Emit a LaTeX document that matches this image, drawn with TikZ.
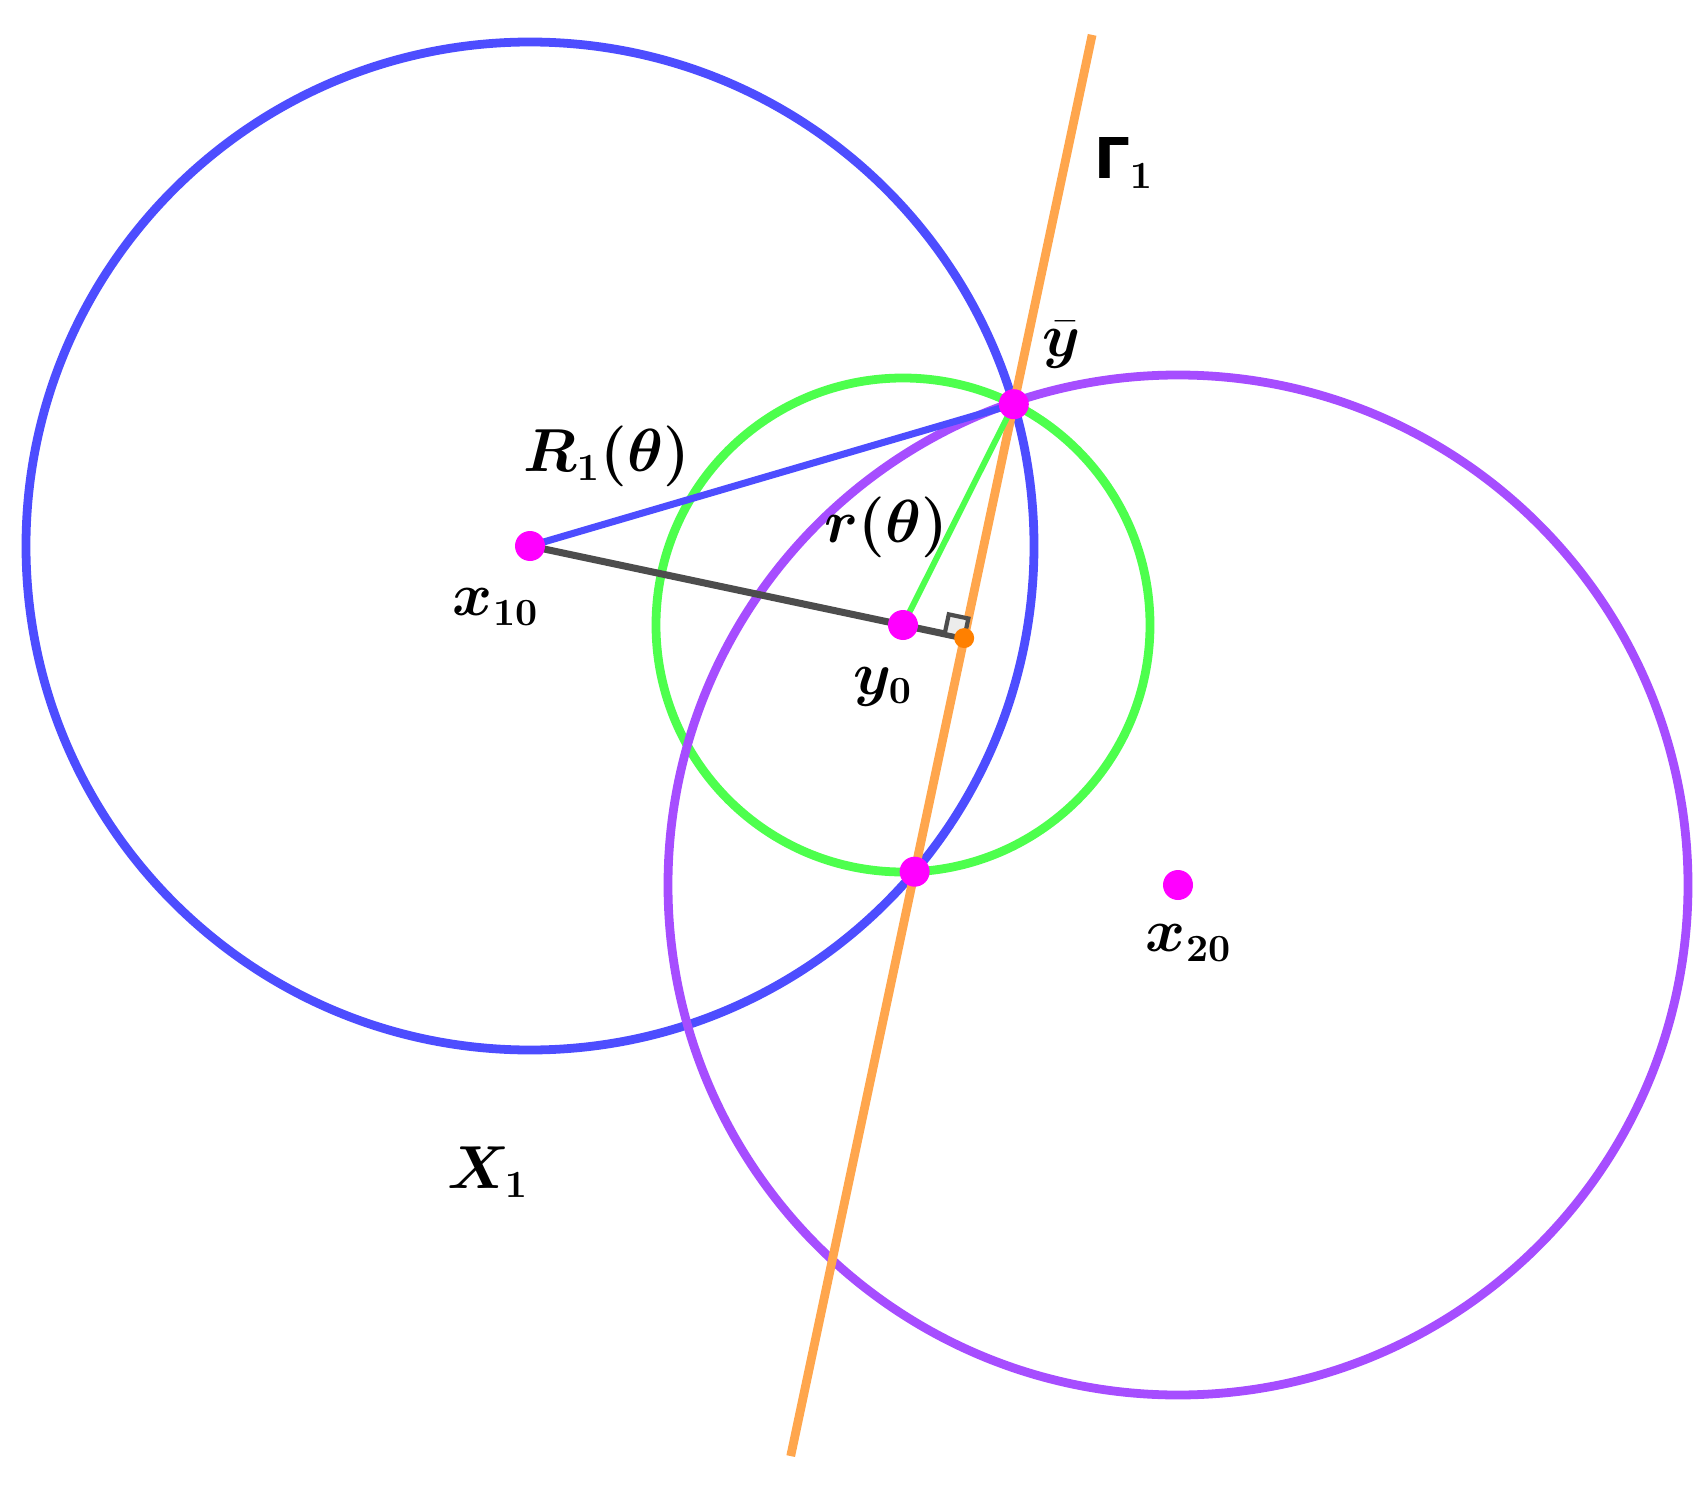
\documentclass[tikz,border=0pt]{standalone}
\usepackage{fontspec}
\usepackage{bm}
\usepackage{tikz}
\usetikzlibrary{calc,intersections}
\newfontfamily\dejavu{DejaVu Sans}
\definecolor{ggblue}{RGB}{77,77,255}
\definecolor{gggreen}{RGB}{77,255,77}
\definecolor{ggpurple}{RGB}{166,77,255}
\definecolor{ggorange}{RGB}{255,166,77}
\definecolor{ggdark}{RGB}{255,128,0}
\definecolor{gggray}{RGB}{77,77,77}
\definecolor{ggmag}{RGB}{255,0,255}

\begin{document}
\begin{tikzpicture}[line width=2.5pt,
      every node/.append style={inner sep=0pt,font=\fontsize{16}{19}\selectfont}]
    \tikzstyle{word} = [color=black]
    \tikzstyle{dot} = [fill=ggmag]
    \useasboundingbox (0,0) rectangle (17.08,14.88);
    \coordinate (x10) at (5.30,9.42);
    \coordinate (y0) at (9.03,8.63);
    \coordinate (x20) at (11.78,6.03);
    % circles
    \draw[ggblue,name path=ballone] (x10) circle (5.04);
    \draw[gggreen,name path=ballzero] (y0) circle (2.47);
    \draw[ggpurple] (x20) circle (5.1);
    \path[name intersections={of=ballone and ballzero, by={ybar,low}}];
    \coordinate (foot) at ($(ybar)!(x10)!(low)$);
    \coordinate (gtop) at ($(ybar)!-0.79!(low)$);
    \coordinate (gbot) at ($(ybar)!2.25!(low)$);
    % lines
    \draw[ggorange] (gtop) -- (gbot);
    \draw[ggblue,line width=2pt] (x10) -- (ybar);
    \draw[gggreen,line width=1.7pt] (y0) -- (ybar);
    \draw[gggray,line width=2pt] (x10) -- (foot);
    \coordinate (ra) at ($(foot)!0.2cm!(x10)$);
    \coordinate (rb) at ($(foot)!0.2cm!(ybar)$);
    \draw[gggray,fill=gray!15,line width=1.2pt] (foot) -- (ra) -- ($(ra)+(rb)-(foot)$) -- (rb) -- cycle;
    % points
    \fill[dot] (x10) circle (0.15);
    \fill[dot] (y0) circle (0.15);
    \fill[dot] (x20) circle (0.15);
    \fill[dot] (ybar) circle (0.15);
    \fill[dot] (low) circle (0.15);
    \fill[ggdark] (foot) circle (0.1);
    % labels
    \node[word] (gammalbl) at (11.24,13.25) {{\dejavu\bfseries Γ}$_{\bm{1}}$};
    \node[word] (ybarlbl) at (10.62,11.43) {$\bm{\bar{y}}$};
    \node[word] (Rlbl) at (6.07,10.32) {$\bm{R_1(\theta)}$};
    \node[word] (rlbl) at (8.86,9.61) {$\bm{r(\theta)}$};
    \node[word] (x10lbl) at (4.96,8.81) {$\bm{x_{10}}$};
    \node[word] (y0lbl) at (8.83,8.01) {$\bm{y_0}$};
    \node[word] (x20lbl) at (11.89,5.45) {$\bm{x_{20}}$};
    \node[word] (Xlbl) at (4.88,3.16) {$\bm{X_1}$};
\end{tikzpicture}
\end{document}
